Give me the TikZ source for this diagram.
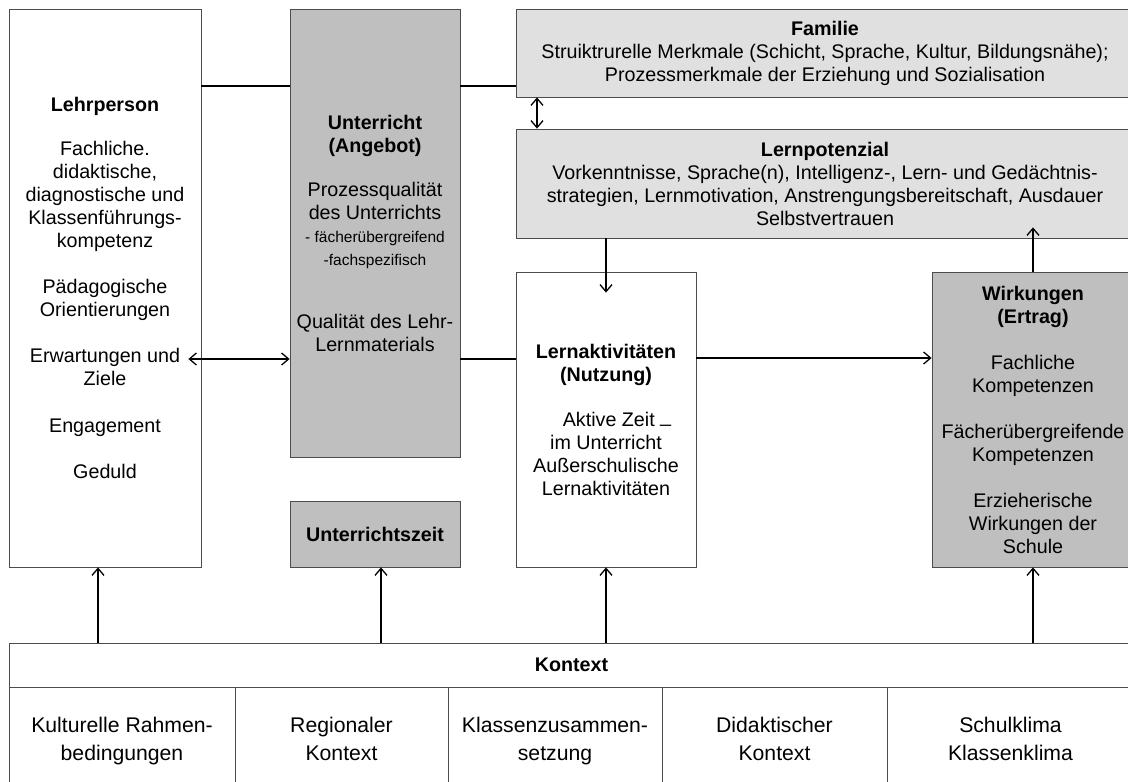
\documentclass[tikz,border=0pt]{standalone}
\usepackage{fontspec}
\setmainfont{Liberation Sans}
\usetikzlibrary{arrows.meta}
\begin{document}
\begin{tikzpicture}[x=1pt,y=-1pt,>={Straight Barb[length=7pt,width=12pt]},
  box/.style={draw=black!70,line width=.8pt,inner sep=0pt,align=center,font=\fontsize{19.7}{23}\selectfont},
  dark/.style={box,fill=black!25},
  light/.style={box,fill=black!12},
  cell/.style={box,font=\fontsize{21.2}{28}\selectfont},
  conn/.style={line width=1.3pt}]
\useasboundingbox (0,0) rectangle (1128,782);

\node[box,minimum width=192pt,minimum height=558pt] (lehr) at (105,288) {\textbf{Lehrperson}\\[21pt]
  Fachliche.\\ didaktische,\\ diagnostische und\\ Klassenführungs-\\ kompetenz\\[23pt]
  Pädagogische\\ Orientierungen\\[23pt] Erwartungen und\\ Ziele\\[24pt] Engagement\\[23pt] Geduld};
\node[dark,minimum width=170pt,minimum height=448pt] (unt) at (375,233) {\textbf{Unterricht}\\ \textbf{(Angebot)}\\[21pt]
  Prozessqualität\\ des Unterrichts\\ {\fontsize{15.5}{23}\selectfont - fächerübergreifend}\\
  {\fontsize{15.5}{23}\selectfont -fachspezifisch}\\[40pt] Qualität des Lehr-\\ Lernmaterials};
\node[dark,minimum width=170pt,minimum height=66pt] (uzeit) at (375,534) {\textbf{Unterrichtszeit}};
\node[light,minimum width=618pt,minimum height=88pt] (fam) at (825,53) {\textbf{Familie}\\
  Struiktrurelle Merkmale (Schicht, Sprache, Kultur, Bildungsnähe);\\ Prozessmerkmale der Erziehung und Sozialisation};
\node[light,minimum width=618pt,minimum height=109pt] (pot) at (825,183.5) {\textbf{Lernpotenzial}\\
  Vorkenntnisse, Sprache(n), Intelligenz-, Lern- und Gedächtnis-\\
  strategien, Lernmotivation, Anstrengungsbereitschaft, Ausdauer\\ Selbstvertrauen};
\node[box,minimum width=180pt,minimum height=295pt] (akt) at (606,419.5) {\textbf{Lernaktivitäten}\\ \textbf{(Nutzung)}\\[22pt]
  \hspace*{22pt}Aktive Zeit \raisebox{4pt}{\_}\\ im Unterricht\\ Außerschulische\\ Lernaktivitäten};
\node[dark,minimum width=202pt,minimum height=295pt] (wirk) at (1033,419.5) {\textbf{Wirkungen}\\ \textbf{(Ertrag)}\\[23pt]
  Fachliche\\ Kompetenzen\\[23pt] Fächerübergreifende\\ Kompetenzen\\[23pt] Erzieherische\\ Wirkungen der\\ Schule};

\node[box,minimum width=1125pt,minimum height=44pt] (kon) at (571.5,665) {\textbf{Kontext}};
\node[cell,minimum width=226pt,minimum height=108pt] (c1) at (122,741) {\strut Kulturelle Rahmen-\\ \strut bedingungen};
\node[cell,minimum width=213pt,minimum height=108pt] (c2) at (341.5,741) {\strut Regionaler\\ \strut Kontext};
\node[cell,minimum width=214pt,minimum height=108pt] (c3) at (555,741) {\strut Klassenzusammen-\\ \strut setzung};
\node[cell,minimum width=225pt,minimum height=108pt] (c4) at (774.5,741) {\strut Didaktischer\\ \strut Kontext};
\node[cell,minimum width=247pt,minimum height=108pt] (c5) at (1010.5,741) {\strut Schulklima\\ \strut Klassenklima};

\draw[conn] (lehr.east |- 0,86) -- (unt.west |- 0,86);
\draw[conn] (unt.east |- 0,86) -- (fam.west |- 0,86);
\draw[conn,<->] (fam.south -| 537,0) -- (pot.north -| 537,0);
\draw[conn,<->] ([xshift=-13pt]lehr.east |- 0,359) -- (unt.west |- 0,359);
\draw[conn] (unt.east |- 0,359) -- (akt.west |- 0,359);
\draw[conn,->] (akt.east |- 0,358) -- (wirk.west |- 0,358);
\draw[conn,->] (pot.south -| akt.north) -- ([yshift=-21pt]akt.north);
\draw[conn,->] (wirk.north) -- ([yshift=11pt]pot.south -| wirk.north);
\foreach \n/\x in {lehr/98,uzeit/381,akt/606,wirk/1033}
  \draw[conn,->] (kon.north -| \x,0) -- (\n.south -| \x,0);
\end{tikzpicture}
\end{document}
